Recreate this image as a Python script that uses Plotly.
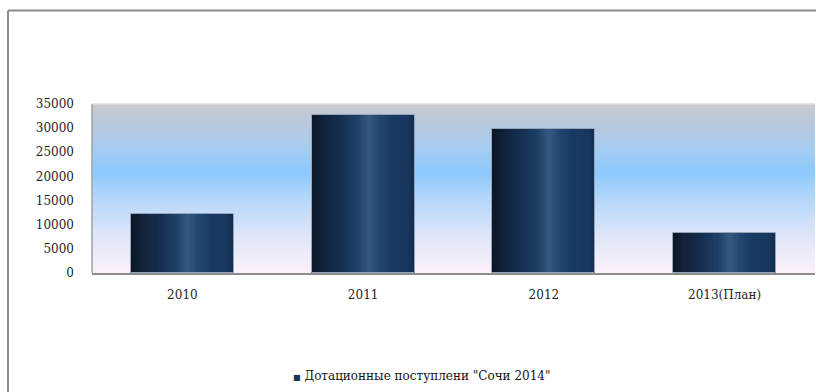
import plotly.graph_objects as go

# Subsidy revenue by year
years = ["2010", "2011", "2012", "2013(План)"]
subsidies = [12300, 32700, 29800, 8300]
series_name = 'Дотационные поступлени "Сочи 2014"'
y_ticks = [0, 5000, 10000, 15000, 20000, 25000, 30000, 35000]

FONT = "DejaVu Serif"
BAR_WIDTH = 0.57
SERIES_COLOR = "rgb(24,52,90)"

# horizontal shading across each bar (position 0..1 from left edge -> colour)
bar_shade = [
    (0.00, (12, 22, 38)),
    (0.12, (17, 35, 60)),
    (0.30, (22, 49, 84)),
    (0.45, (32, 66, 104)),
    (0.55, (55, 88, 128)),
    (0.64, (36, 72, 112)),
    (0.78, (24, 57, 98)),
    (0.92, (24, 56, 96)),
    (1.00, (18, 44, 78)),
]

# vertical shading of the plot area (fraction from bottom -> colour)
bg_shade = [
    (0.00, (253, 240, 251)),
    (0.22, (222, 230, 248)),
    (0.45, (178, 214, 250)),
    (0.60, (140, 201, 252)),
    (0.74, (165, 204, 240)),
    (0.88, (184, 200, 220)),
    (1.00, (198, 202, 206)),
]


def lerp(stops, t):
    for (t0, c0), (t1, c1) in zip(stops, stops[1:]):
        if t0 <= t <= t1:
            f = 0 if t1 == t0 else (t - t0) / (t1 - t0)
            return "rgb(%d,%d,%d)" % tuple(round(a + (b - a) * f) for a, b in zip(c0, c1))
    return "rgb(%d,%d,%d)" % stops[-1][1]


fig = go.Figure()

# Shaded bars: layered from the full width down to the narrowest strip,
# every layer anchored on the bar's left edge.
N = 60
for k in range(N, 0, -1):
    frac = k / N
    fig.add_trace(go.Bar(
        x=years, y=subsidies,
        width=BAR_WIDTH * frac,
        offset=-BAR_WIDTH / 2,
        marker=dict(color=lerp(bar_shade, (k - 0.5) / N), line=dict(width=0)),
        name=series_name, showlegend=False, hoverinfo="skip",
    ))

# bar outline
fig.add_trace(go.Bar(
    x=years, y=subsidies, width=BAR_WIDTH, offset=-BAR_WIDTH / 2,
    marker=dict(color="rgba(0,0,0,0)", line=dict(color="rgb(150,166,186)", width=1)),
    showlegend=False, hoverinfo="skip",
))

# plot-area background: overlapping bands, each reaching to the top
shapes = []
B = 120
for i in range(B):
    shapes.append(dict(
        type="rect", xref="x domain", yref="y domain",
        x0=0, x1=1, y0=i / B, y1=1,
        fillcolor=lerp(bg_shade, (i + 0.5) / B), line=dict(width=0), layer="below",
    ))
# plot-area frame (top and left)
shapes.append(dict(type="line", xref="x domain", yref="y domain", x0=0, x1=1, y0=1, y1=1,
                   line=dict(color="rgb(220,220,220)", width=1.5), layer="above"))
shapes.append(dict(type="line", xref="x domain", yref="y domain", x0=0, x1=0, y0=0, y1=1,
                   line=dict(color="rgb(160,160,160)", width=1.5), layer="above"))

# outer chart frame (top and left edges), in paper units of the 723x169 plot area
PLOT_W, PLOT_H, M_L, M_B = 723, 169, 92, 119
fx0 = (8 - M_L) / PLOT_W
fy0 = (392 - M_B - 10.5) / PLOT_H
shapes.append(dict(type="line", xref="paper", yref="paper", x0=fx0, x1=1.01, y0=fy0, y1=fy0,
                   line=dict(color="rgb(140,140,140)", width=2)))
shapes.append(dict(type="line", xref="paper", yref="paper", x0=fx0, x1=fx0, y0=fy0, y1=-M_B / PLOT_H - 0.05,
                   line=dict(color="rgb(140,140,140)", width=2)))

# legend line below the chart
legend_text = ("<span style='color:%s;font-size:8px'>■</span> " % SERIES_COLOR) + series_name

fig.update_layout(
    width=816, height=392,
    margin=dict(l=M_L, r=1, t=104, b=M_B),
    paper_bgcolor="white", plot_bgcolor="white",
    barmode="overlay", bargap=0,
    showlegend=False,
    shapes=shapes,
    font=dict(family=FONT, size=12, color="rgb(30,30,30)"),
    annotations=[dict(
        text=legend_text, xref="paper", yref="paper",
        x=(421 - M_L) / PLOT_W, y=-(376 - 273) / PLOT_H,
        xanchor="center", yanchor="middle", showarrow=False,
        font=dict(family=FONT, size=12, color="rgb(20,20,20)"),
    )],
    xaxis=dict(type="category", showgrid=False, ticks="", showline=True,
               linecolor="rgb(140,140,140)", linewidth=2,
               tickfont=dict(family=FONT, size=12), ticklabelstandoff=10),
    yaxis=dict(range=[0, 35000], tickvals=y_ticks, tickformat="d", showgrid=False,
               zeroline=False, ticks="", showline=False,
               tickfont=dict(family=FONT, size=12), ticklabelstandoff=17),
)

fig.write_html("out.html")
